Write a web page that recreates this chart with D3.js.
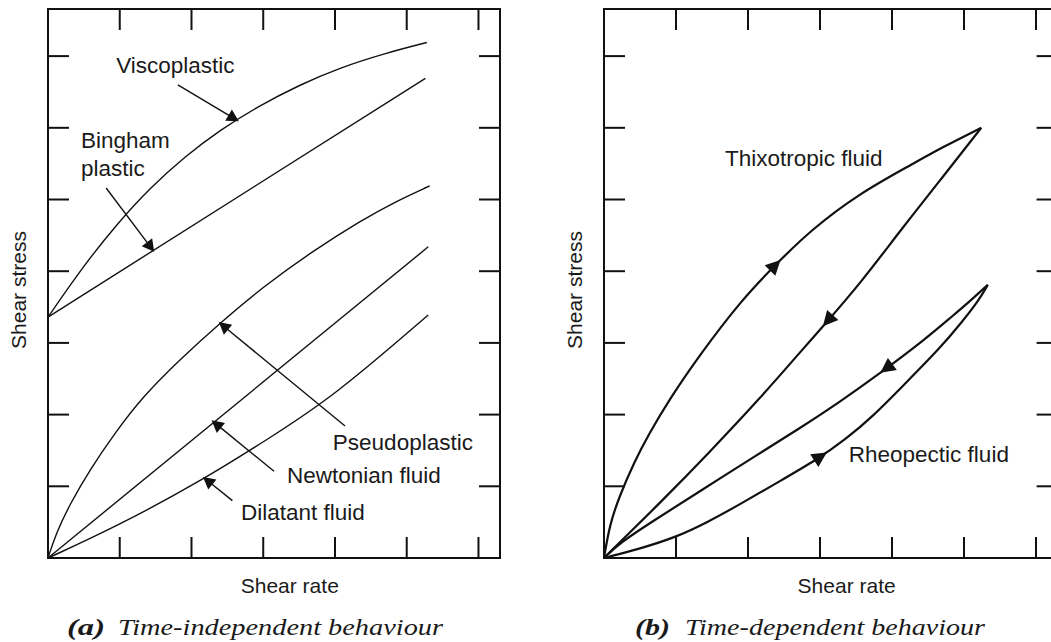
<!DOCTYPE html>
<html>
<head>
<meta charset="utf-8">
<script src="https://cdn.jsdelivr.net/npm/d3@7"></script>
<style>
  html, body { margin: 0; padding: 0; background: #fff; }
  svg { display: block; }
</style>
</head>
<body>
<svg id="chart" width="1051" height="642"></svg>
<script>
// ---------------- DATA (chart units: one tick = 1) ----------------
const xTicks = [1, 2, 3, 4, 5, 6];
const yTicks = [1, 2, 3, 4, 5, 6, 7];

// Panel (a): time-independent behaviour
const viscoX  = [0, 0.49, 0.98, 1.42, 1.91, 2.40, 2.93, 3.51, 4.07, 4.70, 5.28];
const viscoY  = [3.36, 4.07, 4.68, 5.16, 5.60, 5.97, 6.30, 6.60, 6.84, 7.04, 7.19];
const binghamX = [0, 5.26];
const binghamY = [3.36, 6.69];
const pseudoX = [0, 0.11, 0.31, 0.59, 0.93, 1.32, 1.84, 2.40, 3.02, 3.72, 4.35, 4.84, 5.32];
const pseudoY = [0, 0.34, 0.76, 1.24, 1.74, 2.25, 2.77, 3.28, 3.80, 4.30, 4.70, 4.97, 5.19];
const newtonX = [0, 5.30];
const newtonY = [0, 4.34];
const dilatX  = [0, 0.96, 2.16, 3.05, 3.98, 5.30];
const dilatY  = [0, 0.44, 1.09, 1.65, 2.25, 3.39];

const labelsA = ["Viscoplastic", "Bingham", "plastic", "Pseudoplastic", "Newtonian fluid", "Dilatant fluid"];
const labelAX = [0.95, 0.46, 0.46, 3.97, 3.33, 2.69];
const labelAY = [6.76, 5.72, 5.33, 1.51, 1.05, 0.53];

// pointer arrows (tail -> tip)
const ptrTailX = [1.81, 0.81, 4.14, 3.15, 2.57];
const ptrTailY = [6.60, 5.16, 1.84, 1.21, 0.80];
const ptrTipX  = [2.66, 1.48, 2.38, 2.28, 2.16];
const ptrTipY  = [6.09, 4.27, 3.29, 1.92, 1.13];

// Panel (b): time-dependent behaviour
const thixUpX   = [0, 0.08, 0.21, 0.42, 0.63, 0.90, 1.32, 1.91, 2.40, 2.88, 3.54, 4.24, 4.72, 5.24];
const thixUpY   = [0, 0.47, 0.85, 1.34, 1.74, 2.20, 2.82, 3.60, 4.11, 4.58, 5.08, 5.47, 5.74, 6.00];
const thixDownX = [5.24, 4.67, 4.11, 3.56, 3.04, 2.75, 2.17, 1.47, 0.78, 0.22, 0];
const thixDownY = [6.00, 5.27, 4.56, 3.83, 3.23, 2.90, 2.23, 1.48, 0.77, 0.22, 0];
const rheoDownX = [5.33, 5.08, 4.81, 4.46, 3.84, 3.28, 2.72, 2.13, 1.33, 0.64, 0.22, 0];
const rheoDownY = [3.81, 3.58, 3.35, 3.05, 2.58, 2.18, 1.81, 1.44, 0.93, 0.49, 0.21, 0];
const rheoUpX   = [0, 0.50, 1.00, 1.44, 1.89, 2.44, 2.97, 3.35, 3.74, 4.18, 4.67, 4.97, 5.21, 5.33];
const rheoUpY   = [0, 0.13, 0.29, 0.50, 0.75, 1.07, 1.38, 1.65, 1.98, 2.43, 2.93, 3.29, 3.60, 3.81];

const labelsB = ["Thixotropic fluid", "Rheopectic fluid"];
const labelBX = [1.68, 3.40];
const labelBY = [5.47, 1.34];

// arrowheads on the loops (position of tip)
const headCurve = ["thixUp", "thixDown", "rheoDown", "rheoUp"];
const headX = [2.44, 3.04, 3.84, 3.11];
const headY = [4.17, 3.23, 2.58, 1.45];

const axisTitleX = "Shear rate";
const axisTitleY = "Shear stress";
const captionTag = ["(a)", "(b)"];
const captionText = ["Time-independent behaviour", "Time-dependent behaviour"];

// ---------------- DRAWING ----------------
const ink = "#111";
const sans = "'Liberation Sans', Arial, Helvetica, sans-serif";
const serif = "'Liberation Serif', 'Times New Roman', serif";
const svg = d3.select("#chart");

const xA = d3.scaleLinear().domain([0, 6.3]).range([48, 500]);
const yA = d3.scaleLinear().domain([0, 7.657]).range([558, 9]);
const xB = d3.scaleLinear().domain([0, 6.3]).range([604, 1057.6]);
const yB = d3.scaleLinear().domain([0, 7.657]).range([558, 9]);

const zip = (a, b) => a.map((v, i) => [v, b[i]]);
const lineGen = (x, y) => d3.line().x(d => x(d[0])).y(d => y(d[1])).curve(d3.curveBasis);

function drawFrame(x, y) {
  const g = svg.append("g");
  const [xl, xr] = x.range();
  const [yb, yt] = y.range();
  const axes = [
    [d3.axisBottom(x).tickValues(xTicks), `translate(0,${yb})`],
    [d3.axisTop(x).tickValues(xTicks), `translate(0,${yt})`],
    [d3.axisLeft(y).tickValues(yTicks), `translate(${xl},0)`],
    [d3.axisRight(y).tickValues(yTicks), `translate(${xr},0)`]
  ];
  axes.forEach(([ax, t]) => {
    const a = g.append("g").attr("transform", t)
      .call(ax.tickSizeInner(-21).tickSizeOuter(0).tickFormat("").offset(0));
    a.select(".domain").attr("stroke", ink).attr("stroke-width", 2).attr("stroke-linecap", "square");
    a.selectAll(".tick line").attr("stroke", ink).attr("stroke-width", 2);
  });
}

function drawCurve(x, y, xs, ys, w) {
  return svg.append("path")
    .attr("d", lineGen(x, y)(zip(xs, ys)))
    .attr("fill", "none").attr("stroke", ink).attr("stroke-width", w)
    .attr("stroke-linejoin", "round");
}

function triangle(tip, ux, uy, len, hw) {
  const bx = tip[0] - ux * len, by = tip[1] - uy * len;
  return `M${tip[0]},${tip[1]}L${bx - uy * hw},${by + ux * hw}L${bx + uy * hw},${by - ux * hw}Z`;
}

function pointer(x, y, tail, tip) {
  const p0 = [x(tail[0]), y(tail[1])], p1 = [x(tip[0]), y(tip[1])];
  const dx = p1[0] - p0[0], dy = p1[1] - p0[1], L = Math.hypot(dx, dy);
  const ux = dx / L, uy = dy / L, len = 12;
  svg.append("line")
    .attr("x1", p0[0]).attr("y1", p0[1])
    .attr("x2", p1[0] - ux * len * 0.8).attr("y2", p1[1] - uy * len * 0.8)
    .attr("stroke", ink).attr("stroke-width", 1.4);
  svg.append("path").attr("d", triangle(p1, ux, uy, len, 6.5)).attr("fill", ink);
}

function headOnPath(node, px, py) {
  const total = node.getTotalLength();
  let best = 0, bd = Infinity;
  for (let l = 0; l <= total; l += 0.5) {
    const p = node.getPointAtLength(l);
    const d = (p.x - px) ** 2 + (p.y - py) ** 2;
    if (d < bd) { bd = d; best = l; }
  }
  const len = 15;
  const b = node.getPointAtLength(best);
  const a = node.getPointAtLength(Math.max(0, best - len));
  const dx = b.x - a.x, dy = b.y - a.y, L = Math.hypot(dx, dy);
  svg.append("path").attr("d", triangle([b.x, b.y], dx / L, dy / L, len, 7.5)).attr("fill", ink);
}

function textAt(str, px, py, size, opts = {}) {
  return svg.append("text")
    .attr("x", px).attr("y", py)
    .attr("font-family", opts.family || sans)
    .attr("font-size", size)
    .attr("font-style", opts.style || "normal")
    .attr("font-weight", opts.weight || "normal")
    .attr("text-anchor", opts.anchor || "start")
    .attr("fill", "#1a1a1a")
    .text(str);
}

// ---- Panel (a)
drawFrame(xA, yA);
drawCurve(xA, yA, viscoX, viscoY, 1.4);
drawCurve(xA, yA, binghamX, binghamY, 1.4);
drawCurve(xA, yA, pseudoX, pseudoY, 1.4);
drawCurve(xA, yA, newtonX, newtonY, 1.4);
drawCurve(xA, yA, dilatX, dilatY, 1.4);
ptrTailX.forEach((_, i) => pointer(xA, yA, [ptrTailX[i], ptrTailY[i]], [ptrTipX[i], ptrTipY[i]]));
labelsA.forEach((s, i) => textAt(s, xA(labelAX[i]), yA(labelAY[i]), 22.5));

// ---- Panel (b)
drawFrame(xB, yB);
const curvesB = {
  thixUp: drawCurve(xB, yB, thixUpX, thixUpY, 2.2),
  thixDown: drawCurve(xB, yB, thixDownX, thixDownY, 2.2),
  rheoDown: drawCurve(xB, yB, rheoDownX, rheoDownY, 2.2),
  rheoUp: drawCurve(xB, yB, rheoUpX, rheoUpY, 2.2)
};
headCurve.forEach((c, i) => headOnPath(curvesB[c].node(), xB(headX[i]), yB(headY[i])));
labelsB.forEach((s, i) => textAt(s, xB(labelBX[i]), yB(labelBY[i]), 22.5));

// ---- axis titles
[[xA, yA, 26], [xB, yB, 582]].forEach(([x, y, tx]) => {
  textAt(axisTitleX, x(3.37), 593, 21, { anchor: "middle" });
  svg.append("text")
    .attr("transform", `translate(${tx},290) rotate(-90)`)
    .attr("font-family", sans).attr("font-size", 21)
    .attr("text-anchor", "middle").attr("fill", "#1a1a1a")
    .text(axisTitleY);
});

// ---- captions
const capPos = [[67, 38, 118, 325], [635, 35, 685, 300]];
capPos.forEach(([tx, tl, cx, cl], i) => {
  textAt(captionTag[i], tx, 635, 24, { family: serif, style: "italic", weight: "bold" })
    .attr("textLength", tl).attr("lengthAdjust", "spacingAndGlyphs");
  textAt(captionText[i], cx, 635, 24, { family: serif, style: "italic" })
    .attr("textLength", cl).attr("lengthAdjust", "spacingAndGlyphs");
});
</script>
</body>
</html>
